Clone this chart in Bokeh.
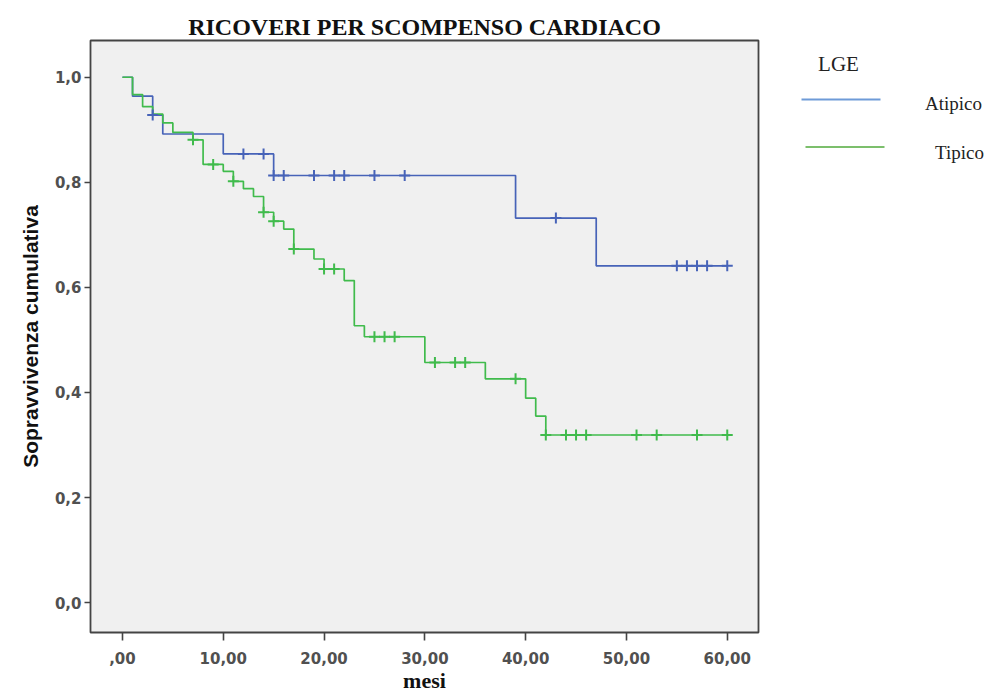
from bokeh.plotting import figure
from bokeh.models import Range1d, FixedTicker
from bokeh.layouts import row
from bokeh.core.properties import value
from bokeh.embed import file_html
from bokeh.resources import INLINE

# ---------------- data ----------------
title_text = "RICOVERI PER SCOMPENSO CARDIACO"
x_label = "mesi"
y_label = "Sopravvivenza cumulativa"
legend_title = "LGE"
series_names = ["Atipico", "Tipico"]

x_ticks = [0, 10, 20, 30, 40, 50, 60]
x_tick_labels = [",00", "10,00", "20,00", "30,00", "40,00", "50,00", "60,00"]
y_ticks = [0.0, 0.2, 0.4, 0.6, 0.8, 1.0]
y_tick_labels = ["0,0", "0,2", "0,4", "0,6", "0,8", "1,0"]

# Atipico (blue): step times and survival after each step
atipico_t = [0, 1, 3, 4, 10, 15, 39, 47, 60]
atipico_s = [1.0, 0.964, 0.928, 0.892, 0.854, 0.813, 0.732, 0.641, 0.641]
atipico_censored = [3, 12, 14, 15, 16, 19, 21, 22, 25, 28, 43, 55, 56, 57, 58, 60]

# Tipico (green)
tipico_t = [0, 1, 2, 3, 4, 5, 7, 8, 10, 11, 12, 13, 14, 15, 16, 17, 19, 20,
            22, 23, 24, 30, 36, 40, 41, 42, 60]
tipico_s = [1.0, 0.967, 0.944, 0.930, 0.913, 0.895, 0.881, 0.834, 0.821, 0.802,
            0.788, 0.773, 0.743, 0.726, 0.711, 0.673, 0.654, 0.635, 0.613, 0.527,
            0.506, 0.457, 0.426, 0.389, 0.355, 0.319, 0.319]
tipico_censored = [7, 9, 11, 14, 15, 17, 20, 21, 25, 26, 27, 31, 33, 34, 39,
                   42, 44, 45, 46, 51, 53, 57, 60]


def surv_at(times, surv, t):
    s = surv[0]
    for ti, si in zip(times, surv):
        if ti <= t:
            s = si
    return s


BLUE = "#4763b8"
GREEN = "#40bb4c"
LEG_BLUE = "#6e9bd8"
LEG_GREEN = "#7cbf6c"

TOP, BOTTOM = 40, 58

# ---------------- main plot ----------------
p = figure(width=760, height=695,
           x_range=Range1d(-3.17, 63.1), y_range=Range1d(-0.057, 1.07),
           output_backend="svg", toolbar_location=None,
           min_border_left=90, min_border_right=2,
           min_border_top=TOP, min_border_bottom=BOTTOM)

p.background_fill_color = "#f0f0f0"
p.border_fill_color = "white"
p.outline_line_color = "#444444"
p.outline_line_width = 1.8
p.grid.visible = False

p.title.text = title_text
p.title.align = "center"
p.title.text_font = "Liberation Serif"
p.title.text_font_style = "bold"
p.title.text_font_size = "24px"
p.title.text_color = "#111111"
p.title.standoff = 2

for ax in (p.xaxis[0], p.yaxis[0]):
    ax.axis_line_color = None
    ax.major_tick_line_color = "#444444"
    ax.major_tick_line_width = 1.6
    ax.minor_tick_line_color = None
    ax.major_tick_in = 0
    ax.major_label_text_font = "DejaVu Sans"
    ax.major_label_text_font_style = "bold"
    ax.major_label_text_font_size = "15px"
    ax.major_label_text_color = "#505050"

p.xaxis.ticker = FixedTicker(ticks=x_ticks)
p.xaxis.major_label_overrides = dict(zip(x_ticks, x_tick_labels))
p.xaxis.major_tick_out = 8
p.xaxis.major_label_standoff = 11
p.xaxis.axis_label = x_label
p.xaxis.axis_label_text_font = "Liberation Serif"
p.xaxis.axis_label_text_font_style = "bold"
p.xaxis.axis_label_text_font_size = "22px"
p.xaxis.axis_label_text_color = "#111111"
p.xaxis.axis_label_standoff = 1

p.yaxis.ticker = FixedTicker(ticks=y_ticks)
p.yaxis.major_label_overrides = dict(zip(y_ticks, y_tick_labels))
p.yaxis.major_tick_out = 6
p.yaxis.major_label_standoff = 3
p.yaxis.axis_label = y_label
p.yaxis.axis_label_text_font = "Liberation Sans"
p.yaxis.axis_label_text_font_style = "bold"
p.yaxis.axis_label_text_font_size = "21px"
p.yaxis.axis_label_text_color = "#111111"
p.yaxis.axis_label_standoff = 10

p.step(atipico_t, atipico_s, mode="after", line_color=BLUE, line_width=1.7)
p.step(tipico_t, tipico_s, mode="after", line_color=GREEN, line_width=1.7)

p.scatter(atipico_censored,
          [surv_at(atipico_t, atipico_s, t) for t in atipico_censored],
          marker="cross", size=11, line_color=BLUE, line_width=2)
p.scatter(tipico_censored,
          [surv_at(tipico_t, tipico_s, t) for t in tipico_censored],
          marker="cross", size=11, line_color=GREEN, line_width=2)

# ---------------- legend panel (screen-like coordinates) ----------------
q = figure(width=229, height=695, x_range=Range1d(0, 229),
           y_range=Range1d(695 - BOTTOM, TOP),
           output_backend="svg", toolbar_location=None,
           x_axis_location=None, y_axis_location=None,
           min_border_left=0, min_border_right=0,
           min_border_top=TOP, min_border_bottom=BOTTOM)
q.outline_line_color = None
q.grid.visible = False
q.background_fill_color = "white"
q.border_fill_color = "white"

serif = value("Liberation Serif")
q.text(x=[78], y=[64], text=[legend_title], text_align="center",
       text_baseline="middle", text_font=serif, text_font_size="21px",
       text_color="#222222")
q.line([41, 120], [99.5, 99.5], line_color=LEG_BLUE, line_width=2)
q.line([45, 124], [147.5, 147.5], line_color=LEG_GREEN, line_width=2)
q.text(x=[193, 199], y=[104, 153], text=series_names, text_align="center",
       text_baseline="middle", text_font=serif, text_font_size="19px",
       text_color="#222222")

layout = row(p, q)
open("out.html", "w").write(file_html(layout, INLINE))
